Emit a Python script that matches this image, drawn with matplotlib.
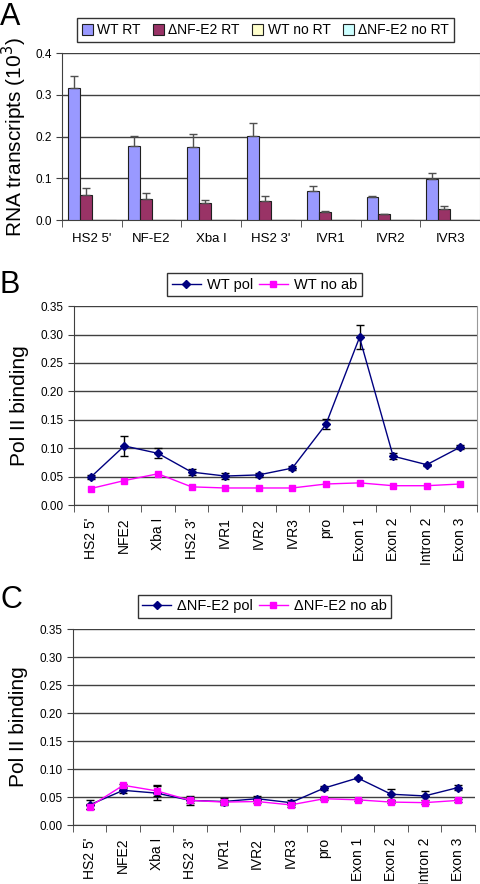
import matplotlib.pyplot as plt
from matplotlib.lines import Line2D
import numpy as np

plt.rcParams['font.family'] = ['Liberation Sans', 'DejaVu Sans']

# Panel A: RNA transcripts
a_sites = ["HS2 5'", "NF-E2", "Xba I", "HS2 3'", "IVR1", "IVR2", "IVR3"]
a_labels = ["WT RT", "\u0394NF-E2 RT", "WT no RT", "\u0394NF-E2 no RT"]
wt_rt = [0.317, 0.178, 0.174, 0.202, 0.070, 0.055, 0.098]
wt_rt_err = [0.027, 0.023, 0.031, 0.031, 0.012, 0.002, 0.014]
dnf_rt = [0.060, 0.051, 0.042, 0.046, 0.020, 0.015, 0.027]
dnf_rt_err = [0.018, 0.014, 0.006, 0.012, 0.003, 0.0, 0.006]
wt_nort = [0.0, 0.001, 0.001, 0.0, 0.0, 0.0, 0.001]
dnf_nort = [0.0, 0.001, 0.001, 0.0, 0.0, 0.0, 0.0]

# Panels B and C: Pol II binding
sites = ["HS2 5'", "NFE2", "Xba I", "HS2 3'", "IVR1", "IVR2", "IVR3",
         "pro", "Exon 1", "Exon 2", "Intron 2", "Exon 3"]
wt_pol = [0.049, 0.104, 0.091, 0.058, 0.051, 0.053, 0.065, 0.142, 0.295, 0.086, 0.071, 0.102]
wt_pol_err = [0.004, 0.017, 0.009, 0.006, 0.005, 0.003, 0.003, 0.009, 0.021, 0.005, 0.002, 0.003]
wt_noab = [0.029, 0.043, 0.055, 0.032, 0.030, 0.030, 0.030, 0.037, 0.039, 0.034, 0.034, 0.037]
dnf_pol = [0.036, 0.062, 0.057, 0.044, 0.042, 0.047, 0.040, 0.066, 0.084, 0.055, 0.052, 0.067]
dnf_pol_err = [0.008, 0.004, 0.012, 0.008, 0.007, 0.004, 0.005, 0.004, 0.002, 0.010, 0.008, 0.005]
dnf_noab = [0.033, 0.071, 0.061, 0.044, 0.041, 0.042, 0.036, 0.047, 0.045, 0.041, 0.040, 0.044]
dnf_noab_err = [0.004, 0.003, 0.010, 0.004, 0.003, 0.003, 0.003, 0.002, 0.002, 0.002, 0.002, 0.002]

grid_c = '#404040'

fig = plt.figure(figsize=(4.8, 8.84), dpi=100)

# ---- Panel A ----
axA = fig.add_axes([0.129, 0.751, 0.871, 0.189])
x = np.arange(len(a_sites))
w = 0.2
series = [(wt_rt, wt_rt_err, '#9999FF'), (dnf_rt, dnf_rt_err, '#993366'),
          (wt_nort, None, '#FFFFCC'), (dnf_nort, None, '#CCFFFF')]
for i, (vals, err, col) in enumerate(series):
    pos = x + (i - 1.5) * w
    axA.bar(pos, vals, width=w, color=col, edgecolor='#202020', linewidth=0.8,
            label=a_labels[i], zorder=3)
    if err is not None:
        axA.errorbar(pos, vals, yerr=[np.zeros(len(err)), err], fmt='none',
                     ecolor='#505050', elinewidth=1, capsize=3, capthick=1, zorder=4)
axA.set_xlim(-0.5, len(a_sites) - 0.5)
axA.set_ylim(0, 0.4)
axA.set_yticks([0, 0.1, 0.2, 0.3, 0.4])
axA.set_yticklabels(['0.0', '0.1', '0.2', '0.3', '0.4'], fontsize=8.5)
axA.set_xticks(x)
axA.set_xticklabels(a_sites, fontsize=9.5)
axA.set_xticks(np.arange(len(a_sites) + 1) - 0.5, minor=True)
axA.tick_params(axis='x', which='major', length=0, pad=9)
axA.tick_params(axis='x', which='minor', length=5, direction='out', color=grid_c)
axA.tick_params(axis='y', length=4, direction='out', color=grid_c)
axA.set_ylabel("RNA transcripts (10$^3$)", fontsize=15, labelpad=4)
axA.yaxis.grid(True, color=grid_c, linewidth=1, zorder=0)
axA.set_axisbelow(True)
axA.spines['top'].set_visible(False)
axA.spines['right'].set_color('#999999')
axA.spines['left'].set_color(grid_c)
axA.spines['bottom'].set_color(grid_c)
axA.legend(loc='center', bbox_to_anchor=(0.553, 0.966), bbox_transform=fig.transFigure,
           ncol=4, fontsize=10, frameon=True, fancybox=False, edgecolor='black',
           handlelength=0.8, handleheight=0.8, handletextpad=0.3, columnspacing=0.9,
           borderpad=0.35, borderaxespad=0)

# ---- Panels B and C ----
def line_panel(rect, s1, e1, s2, e2, labels, legend_y, right_border):
    ax = fig.add_axes(rect)
    xs = np.arange(len(sites))
    ax.errorbar(xs, s1, yerr=e1, color='#000080', marker='D', markersize=4,
                linewidth=1, ecolor='black', elinewidth=1, capsize=3, capthick=1,
                zorder=3)
    ax.errorbar(xs, s2, yerr=e2, color='#FF00FF', marker='s', markersize=5,
                linewidth=1, ecolor='black', elinewidth=1, capsize=3, capthick=1,
                zorder=4)
    ax.set_xlim(-0.5, len(sites) - 0.5)
    ax.set_ylim(0, 0.35)
    yt = np.arange(0, 0.351, 0.05)
    ax.set_yticks(yt)
    ax.set_yticklabels(['%.2f' % v for v in yt], fontsize=8.5)
    ax.set_xticks(xs)
    ax.set_xticklabels(sites, fontsize=10, rotation=90)
    ax.set_xticks(np.arange(len(sites) + 1) - 0.5, minor=True)
    ax.tick_params(axis='x', which='major', length=0, pad=9)
    ax.tick_params(axis='x', which='minor', length=5, direction='out', color=grid_c)
    ax.tick_params(axis='y', length=4, direction='out', color=grid_c)
    ax.set_ylabel("Pol II binding", fontsize=15, labelpad=8)
    ax.yaxis.grid(True, color=grid_c, linewidth=1, zorder=0)
    ax.set_axisbelow(True)
    ax.spines['top'].set_visible(False)
    if right_border:
        ax.spines['right'].set_color('#999999')
    else:
        ax.spines['right'].set_visible(False)
    ax.spines['left'].set_color(grid_c)
    ax.spines['bottom'].set_color(grid_c)
    handles = [Line2D([], [], color='#000080', marker='D', markersize=4, linewidth=1),
               Line2D([], [], color='#FF00FF', marker='s', markersize=5, linewidth=1)]
    ax.legend(handles, labels, loc='center', bbox_to_anchor=(0.551, legend_y),
              bbox_transform=fig.transFigure, ncol=2, fontsize=10.5, frameon=True,
              fancybox=False, edgecolor='black', handlelength=2.0,
              handletextpad=0.4, columnspacing=0.4, borderpad=0.3, borderaxespad=0)
    return ax

line_panel([0.154, 0.4287, 0.840, 0.225], wt_pol, wt_pol_err, wt_noab, None,
           ["WT pol", "WT no ab"], 0.678, True)
line_panel([0.152, 0.0667, 0.8375, 0.2217], dnf_pol, dnf_pol_err, dnf_noab, dnf_noab_err,
           ["\u0394NF-E2 pol", "\u0394NF-E2 no ab"], 0.314, False)

fig.text(0.0, 0.998, "A", fontsize=22, va='top', ha='left')
fig.text(0.0, 0.695, "B", fontsize=22, va='top', ha='left')
fig.text(0.0, 0.338, "C", fontsize=22, va='top', ha='left')

fig.savefig("out.png", dpi=100)
